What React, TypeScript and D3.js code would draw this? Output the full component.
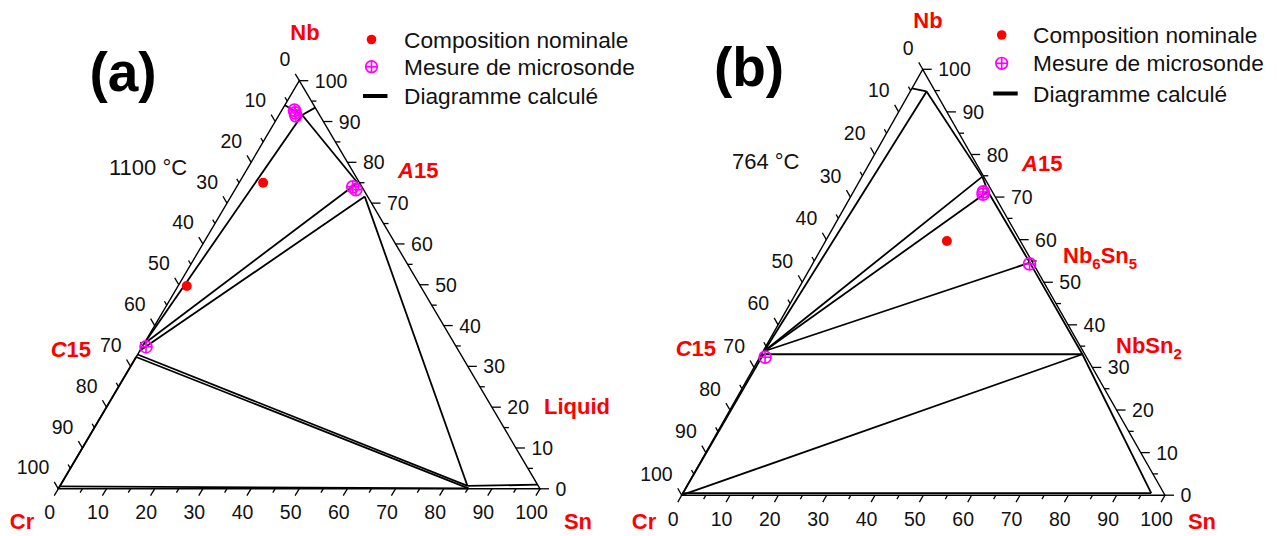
import React from 'react';
import * as d3 from 'd3';

type Comp = [number, number, number]; // [Cr, Nb, Sn] in at.%
type Pt = [number, number];

// ---------- DATA ----------
const majorTicks = [0, 10, 20, 30, 40, 50, 60, 70, 80, 90, 100];
const minorTicks = [5, 15, 25, 35, 45, 55, 65, 75, 85, 95];

const legendLabels = ['Composition nominale', 'Mesure de microsonde', 'Diagramme calculé'];

// (a) 1100 °C calculated section
const linesA: Comp[][] = [
  [[6, 94, 0], [3.6, 91.6, 4.8], [0, 93.4, 6.6]],
  [[3.6, 91.6, 4.8], [0.4, 75, 24.6]],
  [[3.6, 91.6, 4.8], [64.5, 35.5, 0]],
  [[64.5, 35.5, 0], [0.4, 75, 24.6]],
  [[66.2, 33.8, 0], [0.6, 71.6, 27.8]],
  [[67.1, 32.9, 0], [14.7, 0.7, 84.6]],
  [[67.7, 32.3, 0], [14.8, 0.1, 85.1]],
  [[0.6, 71.6, 27.8], [14.7, 0.7, 84.6]],
  [[14.7, 0.7, 84.6], [0, 1, 99]],
  [[99.4, 0.6, 0], [14.8, 0.1, 85.1]],
  [[67.7, 32.3, 0], [100, 0, 0]],
];
const nominalA: Comp[] = [[20, 75, 5], [48.5, 49.7, 1.8]];
const probeA: Comp[] = [
  [4.8, 92.1, 3.1], [5.0, 91.4, 3.6], [4.6, 92.8, 2.6],
  [1.9, 74.0, 24.1], [1.6, 73.3, 25.1],
  [64.4, 34.8, 0.8],
];

// (b) 764 °C calculated section
const linesB: Comp[][] = [
  [[4.5, 95.5, 0], [1.8, 94.8, 3.4]],
  [[1.8, 94.8, 3.4], [0.3, 74.8, 24.9]],
  [[1.8, 94.8, 3.4], [66, 33.8, 0.2]],
  [[66, 33.8, 0.2], [0.3, 74.8, 24.9]],
  [[66, 33.8, 0.2], [0.9, 71.3, 27.8]],
  [[0.3, 74.8, 24.9], [0.9, 71.3, 27.8]],
  [[0.9, 71.3, 27.8], [0.6, 54.6, 44.8], [0.5, 33.1, 66.4]],
  [[66, 33.8, 0.2], [0.6, 54.6, 44.8]],
  [[66.5, 33.1, 0.4], [0.5, 33.1, 66.4]],
  [[100, 0, 0], [0.5, 33.1, 66.4]],
  [[0.5, 33.1, 66.4], [2.6, 0.5, 96.9]],
  [[99.5, 0.5, 0], [2.6, 0.5, 96.9]],
  [[66.5, 33.1, 0.4], [100, 0, 0]],
];
const nominalB: Comp[] = [[15.2, 59.7, 25.1]];
const probeB: Comp[] = [
  [2.2, 70.7, 27.1], [1.9, 71.2, 26.9],
  [0.8, 54.3, 44.9],
  [66.5, 32.4, 1.1],
];

// ---------- LAYOUT ----------
const FONT = "'Liberation Sans', Arial, Helvetica, sans-serif";
const RED = '#ff0000';
const MAG = '#ff00ff';

interface PanelCfg {
  cr: Pt; nb: Pt; sn: Pt;
}
const cfgA: PanelCfg = { cr: [58.3, 488.8], nb: [299.3, 80.7], sn: [540, 488.8] };
const cfgB: PanelCfg = { cr: [681.7, 495.2], nb: [922.7, 69.3], sn: [1165, 495.2] };

const frac = d3.scaleLinear().domain([0, 100]).range([0, 1]);

function makeProj(c: PanelCfg) {
  return (p: Comp): Pt => {
    const a = frac(p[0]), b = frac(p[1]), s = frac(p[2]);
    const t = a + b + s;
    return [
      (a * c.cr[0] + b * c.nb[0] + s * c.sn[0]) / t,
      (a * c.cr[1] + b * c.nb[1] + s * c.sn[1]) / t,
    ];
  };
}
function unit(from: Pt, to: Pt): Pt {
  const dx = to[0] - from[0], dy = to[1] - from[1];
  const l = Math.hypot(dx, dy);
  return [dx / l, dy / l];
}

const lineGen = d3.line<Pt>().x(d => d[0]).y(d => d[1]);

function Probe({ p, r = 6 }: { p: Pt; r?: number }) {
  return (
    <g stroke={MAG} strokeWidth={1.7} fill="none">
      <circle cx={p[0]} cy={p[1]} r={r} />
      <line x1={p[0] - r} x2={p[0] + r} y1={p[1]} y2={p[1]} />
      <line x1={p[0]} x2={p[0]} y1={p[1] - r} y2={p[1] + r} />
    </g>
  );
}

function Panel({ cfg, lines, nominal, probe }: { cfg: PanelCfg; lines: Comp[][]; nominal: Comp[]; probe: Comp[] }) {
  const proj = makeProj(cfg);
  const dirSn = unit(cfg.nb, cfg.cr); // bottom axis ticks (down-left)
  const dirNb: Pt = [1, 0]; // right axis ticks
  const dirCr = unit(cfg.sn, cfg.nb); // left axis ticks (up-left)
  const all = [...majorTicks.map(v => ({ v, major: true })), ...minorTicks.map(v => ({ v, major: false }))];
  const tri = lineGen([cfg.cr, cfg.sn, cfg.nb]) + 'Z';
  return (
    <g>
      <path d={tri} fill="none" stroke="#000" strokeWidth={1.4} strokeLinejoin="miter" />
      {/* ticks */}
      <g stroke="#000" strokeWidth={1.3}>
        {all.map(({ v, major }) => {
          const p = proj([100 - v, 0, v]);
          const L = major ? 8 : 4.5;
          return <line key={'s' + v} x1={p[0]} y1={p[1]} x2={p[0] + dirSn[0] * L} y2={p[1] + dirSn[1] * L} />;
        })}
        {all.map(({ v, major }) => {
          const p = proj([0, v, 100 - v]);
          const L = major ? 9 : 5;
          return <line key={'n' + v} x1={p[0]} y1={p[1]} x2={p[0] + dirNb[0] * L} y2={p[1] + dirNb[1] * L} />;
        })}
        {all.map(({ v, major }) => {
          const p = proj([v, 100 - v, 0]);
          const L = major ? 8 : 4.5;
          return <line key={'c' + v} x1={p[0]} y1={p[1]} x2={p[0] + dirCr[0] * L} y2={p[1] + dirCr[1] * L} />;
        })}
      </g>
      <g fontSize={19.5} fill="#111">
        {majorTicks.map(v => {
          const p = proj([100 - v, 0, v]);
          return <text key={'ts' + v} x={p[0] - 8.5} y={p[1] + 23.5} dy="0.36em" textAnchor="middle">{v}</text>;
        })}
        {majorTicks.map(v => {
          const p = proj([0, v, 100 - v]);
          return <text key={'tn' + v} x={p[0] + 15.5} y={p[1]} dy="0.36em" textAnchor="start">{v}</text>;
        })}
        {majorTicks.map(v => {
          const p = proj([v, 100 - v, 0]);
          return <text key={'tc' + v} x={p[0] - 9} y={p[1] - 21.5} dy="0.36em" textAnchor="end">{v}</text>;
        })}
      </g>
      {/* phase diagram lines */}
      <g fill="none" stroke="#000" strokeWidth={1.8} strokeLinejoin="round">
        {lines.map((ln, i) => <path key={i} d={lineGen(ln.map(proj)) || ''} />)}
      </g>
      {nominal.map((c, i) => {
        const p = proj(c);
        return <circle key={'nm' + i} cx={p[0]} cy={p[1]} r={5} fill={RED} />;
      })}
      {probe.map((c, i) => <Probe key={'pr' + i} p={proj(c)} />)}
    </g>
  );
}

function Legend({ dotX, textX, ys }: { dotX: number; textX: number; ys: number[] }) {
  return (
    <g>
      <circle cx={dotX} cy={ys[0]} r={4.8} fill={RED} />
      <Probe p={[dotX, ys[1]]} r={5.8} />
      <line x1={dotX - 8.5} x2={dotX + 16} y1={ys[2]} y2={ys[2]} stroke="#000" strokeWidth={4} />
      {legendLabels.map((t, i) => (
        <text key={t} x={textX} y={ys[i]} dy="0.36em" fontSize={22.7} fill="#111">{t}</text>
      ))}
    </g>
  );
}

const redStyle = { fill: RED, fontWeight: 700, fontSize: 22 } as const;

export default function App() {
  return (
    <svg width={1277} height={536} style={{ position: 'absolute', left: 0, top: 0, background: '#fff' }} fontFamily={FONT}>
      <rect x={0} y={0} width={1277} height={536} fill="#fff" />
      {/* Panel (a) */}
      <text x={123} y={91} fontSize={55} fontWeight={700} textAnchor="middle" fill="#000">(a)</text>
      <text x={109} y={167} dy="0.36em" fontSize={22} fill="#111">1100 °C</text>
      <Panel cfg={cfgA} lines={linesA} nominal={nominalA} probe={probeA} />
      <Legend dotX={371.5} textX={404} ys={[39.5, 66.7, 96]} />
      <text x={305} y={32} dy="0.36em" textAnchor="middle" {...redStyle}>Nb</text>
      <text x={398} y={170} dy="0.36em" {...redStyle}><tspan fontStyle="italic">A</tspan>15</text>
      <text x={91} y={349} dy="0.36em" textAnchor="end" {...redStyle}><tspan fontStyle="italic">C</tspan>15</text>
      <text x={544} y={406} dy="0.36em" {...redStyle}>Liquid</text>
      <text x={22} y={521} dy="0.36em" textAnchor="middle" {...redStyle}>Cr</text>
      <text x={578} y={521} dy="0.36em" textAnchor="middle" {...redStyle}>Sn</text>

      {/* Panel (b) */}
      <text x={749} y={86} fontSize={55} fontWeight={700} textAnchor="middle" fill="#000">(b)</text>
      <text x={732} y={161} dy="0.36em" fontSize={22} fill="#111">764 °C</text>
      <Panel cfg={cfgB} lines={linesB} nominal={nominalB} probe={probeB} />
      <Legend dotX={1001.7} textX={1033} ys={[35, 63.3, 93.5]} />
      <text x={928} y={20.5} dy="0.36em" textAnchor="middle" {...redStyle}>Nb</text>
      <text x={1022} y={163} dy="0.36em" {...redStyle}><tspan fontStyle="italic">A</tspan>15</text>
      <text x={1063} y={255} dy="0.36em" {...redStyle}>Nb<tspan fontSize={15} dy={6}>6</tspan><tspan dy={-6}>Sn</tspan><tspan fontSize={15} dy={6}>5</tspan></text>
      <text x={1116} y={345} dy="0.36em" {...redStyle}>NbSn<tspan fontSize={15} dy={6}>2</tspan></text>
      <text x={716} y={348} dy="0.36em" textAnchor="end" {...redStyle}><tspan fontStyle="italic">C</tspan>15</text>
      <text x={644} y={521} dy="0.36em" textAnchor="middle" {...redStyle}>Cr</text>
      <text x={1202} y={521} dy="0.36em" textAnchor="middle" {...redStyle}>Sn</text>
    </svg>
  );
}
